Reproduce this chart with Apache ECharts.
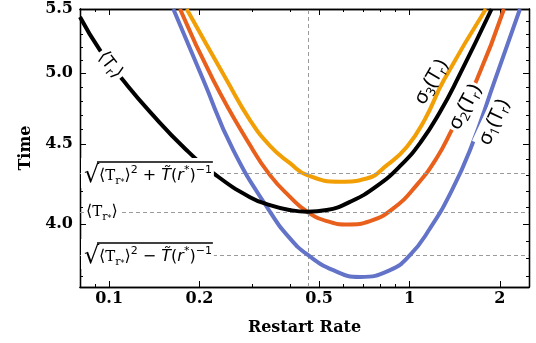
<!DOCTYPE html>
<html>
<head>
<meta charset="utf-8">
<script src="https://cdn.jsdelivr.net/npm/echarts@6/dist/echarts.min.js"></script>
<style>
  html, body { margin: 0; padding: 0; background: #fff; }
  #chart { width: 536px; height: 343px; }
</style>
</head>
<body>
<div id="chart"></div>
<script>
// [restart rate, time]
const meanT = [[0.08, 5.435], [0.0932, 5.175], [0.1112, 4.95], [0.1368, 4.722], [0.1812, 4.461], [0.228, 4.296],
  [0.2944, 4.161], [0.3432, 4.112], [0.4001, 4.082], [0.4567, 4.072], [0.5302, 4.082], [0.6338, 4.132],
  [0.7737, 4.226], [0.9369, 4.363], [1.0921, 4.517], [1.2635, 4.721], [1.45, 4.964], [1.877, 5.5]];
const sigma1 = [[0.1636, 5.5], [0.2059, 4.95], [0.2591, 4.461], [0.3432, 4.072], [0.4001, 3.914], [0.4567, 3.822],
  [0.5575, 3.734], [0.6842, 3.697], [0.8612, 3.734], [1.0037, 3.818], [1.17, 3.972], [1.364, 4.18],
  [1.59, 4.461], [1.925, 4.95], [2.333, 5.5]];
const sigma2 = [[0.1722, 5.5], [0.2222, 4.95], [0.2944, 4.495], [0.3432, 4.299], [0.4001, 4.163], [0.4567, 4.072],
  [0.5302, 4.016], [0.6256, 3.996], [0.7388, 4.016], [0.8833, 4.092], [1.0566, 4.236], [1.232, 4.41],
  [1.382, 4.596], [1.674, 4.95], [2.064, 5.5]];
const sigma3 = [[0.1812, 5.5], [0.2462, 4.95], [0.2944, 4.665], [0.3432, 4.49], [0.4001, 4.376], [0.4567, 4.299],
  [0.587, 4.257], [0.7203, 4.278], [0.8415, 4.363], [0.981, 4.484], [1.126, 4.671], [1.302, 4.95], [1.797, 5.5]];

const rStar = 0.456;
const levels = [4.306, 4.07, 3.819];   // upper, <T_r*>, lower

const xMajor = [0.1, 0.2, 0.5, 1, 2];
const xMinor = [0.09, 0.3, 0.4, 0.6, 0.7, 0.8, 0.9];
const yMajor = [4.0, 4.5, 5.0, 5.5];
const yMinor = [3.7, 3.8, 3.9, 4.1, 4.2, 4.3, 4.4, 4.6, 4.7, 4.8, 4.9, 5.1, 5.2, 5.3, 5.4];

const serif = 'DejaVu Serif';
const chart = echarts.init(document.getElementById('chart'));

function xAx(position, ticks, len, labels) {
  return {
    type: 'log', min: 0.08, max: 2.5, position: position,
    axisLine: { show: true, lineStyle: { color: '#000', width: 1.3 } },
    axisTick: { show: true, inside: true, length: len, customValues: ticks, lineStyle: { color: '#000', width: 1 } },
    axisLabel: labels ? {
      customValues: ticks, margin: 4, color: '#000',
      fontFamily: serif, fontWeight: 'bold', fontSize: 16,
      formatter: (v) => String(Number(Number(v).toPrecision(3)))
    } : { show: false },
    splitLine: { show: false },
    name: labels ? 'Restart Rate' : '',
    nameLocation: 'middle', nameGap: 33,
    nameTextStyle: { fontFamily: serif, fontWeight: 'bold', fontSize: 16, color: '#000' }
  };
}

function yAx(position, ticks, len, labels) {
  return {
    type: 'log', min: 3.642, max: 5.5, position: position,
    axisLine: { show: true, lineStyle: { color: '#000', width: 1.3 } },
    axisTick: { show: true, inside: true, length: len, customValues: ticks, lineStyle: { color: '#000', width: 1 } },
    axisLabel: labels ? {
      customValues: ticks, margin: 7, color: '#000',
      fontFamily: serif, fontWeight: 'bold', fontSize: 16,
      formatter: (v) => Number(v).toFixed(1)
    } : { show: false },
    splitLine: { show: false },
    name: labels ? 'Time' : '',
    nameLocation: 'middle', nameGap: 46,
    nameTextStyle: { fontFamily: serif, fontWeight: 'bold', fontSize: 16, color: '#000' }
  };
}

function curve(data, color, z) {
  return {
    type: 'line', data: data, xAxisIndex: 0, yAxisIndex: 0,
    showSymbol: false, smooth: 0.5, z: z, silent: true,
    lineStyle: { color: color, width: 4 }
  };
}

const dash = { color: '#9a9a9a', width: 1, type: [4, 3] };

chart.setOption({
  animation: false,
  grid: { left: 80, right: 7, top: 9, bottom: 56 },
  xAxis: [xAx('bottom', xMajor, 6, true), xAx('bottom', xMinor, 3, false), xAx('top', xMajor, 6, false), xAx('top', xMinor, 3, false)],
  yAxis: [yAx('left', yMajor, 6, true), yAx('left', yMinor, 3, false), yAx('right', yMajor, 6, false), yAx('right', yMinor, 3, false)],
  series: [
    {
      type: 'line', data: [], xAxisIndex: 0, yAxisIndex: 0, z: 1, silent: true,
      markLine: {
        silent: true, symbol: 'none', label: { show: false }, lineStyle: dash,
        data: levels.map(v => ({ yAxis: v })).concat([{ xAxis: rStar }])
      }
    },
    curve(sigma3, '#f29f05', 3),
    curve(sigma2, '#e8601c', 4),
    curve(sigma1, '#6373c8', 5),
    curve(meanT, '#000', 6)
  ]
});

// annotations, anchored through the axes
const px = (x, y) => chart.convertToPixel({ gridIndex: 0 }, [x, y]);
const left = px(0.08, 4)[0];

const tt = 'DejaVu Serif';
const rich = {
  a: { fontSize: 16, fontFamily: 'DejaVu Sans', fill: '#000', lineHeight: 22 },
  tt: { fontSize: 15, fontFamily: tt, fill: '#000', lineHeight: 22 },
  sub: { fontSize: 11, fontFamily: tt, fill: '#000', lineHeight: 16, verticalAlign: 'bottom' },
  ss: { fontSize: 8, fontFamily: 'DejaVu Sans', fill: '#000', lineHeight: 20, verticalAlign: 'bottom' },
  sup: { fontSize: 11, fontFamily: 'DejaVu Sans', fill: '#000', lineHeight: 12, verticalAlign: 'top' },
  it: { fontSize: 16, fontFamily: 'DejaVu Sans', fontStyle: 'italic', fill: '#000', lineHeight: 22 }
};
const tStar = '{a|⟨}{tt|T}{sub|r}{ss|*}{a|⟩}';

function rootLabel(sign, y) {
  const text = tStar + '{sup|2}{a| ' + sign + ' }{it|T̃}{a|(}{it|r}{sup|*}{a|)}{sup|−1}';
  const w = new echarts.graphic.Text({ style: { text: text, rich: rich } }).getBoundingRect().width;
  return {
    type: 'group', x: left + 4, y: px(1, y)[1], z: 100,
    children: [
      { type: 'rect', z: 100, shape: { x: -3, y: -16, width: 20 + w, height: 30 }, style: { fill: '#fff' } },
      { type: 'text', z: 101, x: 0, y: 2, style: { text: '√', font: '24px DejaVu Sans', fill: '#000', align: 'left', verticalAlign: 'middle', textAlign: 'left', textVerticalAlign: 'middle' } },
      { type: 'line', z: 101, shape: { x1: 13, y1: -12, x2: 16 + w, y2: -12 }, style: { stroke: '#000', lineWidth: 1.4 } },
      { type: 'text', z: 101, x: 15, y: 2, style: { text: text, rich: rich, align: 'left', verticalAlign: 'middle', textAlign: 'left', textVerticalAlign: 'middle' } }
    ]
  };
}

function sigmaLabel(k, x, y, deg, bg) {
  const p = px(x, y);
  return {
    type: 'text', z: 100, x: p[0], y: p[1], rotation: deg * Math.PI / 180,
    style: {
      text: '{s|σ}{n|' + k + '}{s|(T}{n|r}{s|)}',
      rich: {
        s: { fontSize: 20, fontFamily: 'Noto Sans', fill: '#000', lineHeight: 24 },
        n: { fontSize: 13, fontFamily: 'Noto Sans', fill: '#000', lineHeight: 18, verticalAlign: 'bottom' }
      },
      backgroundColor: bg ? '#fff' : 'transparent', padding: [0, 2],
      align: 'center', verticalAlign: 'middle', textAlign: 'center', textVerticalAlign: 'middle'
    }
  };
}

const pMean = px(0.1007, 5.061);
chart.setOption({
  graphic: [
    rootLabel('+', levels[0]),
    {
      type: 'text', z: 100, x: left + 4, y: px(1, levels[1])[1],
      style: { text: tStar, rich: rich, backgroundColor: '#fff', padding: [0, 2], align: 'left', verticalAlign: 'middle', textAlign: 'left', textVerticalAlign: 'middle' }
    },
    rootLabel('−', levels[2]),
    {
      type: 'text', z: 100, x: pMean[0], y: pMean[1], rotation: -52 * Math.PI / 180,
      style: {
        text: '{a|⟨}{s|T}{n|r}{a|⟩}',
        rich: {
          a: { fontSize: 18, fontFamily: 'DejaVu Sans', fill: '#000', lineHeight: 22 },
          s: { fontSize: 18, fontFamily: 'Noto Sans', fill: '#000', lineHeight: 22 },
          n: { fontSize: 12, fontFamily: 'Noto Sans', fill: '#000', lineHeight: 16, verticalAlign: 'bottom' }
        },
        backgroundColor: '#fff', padding: [0, 2],
        align: 'center', verticalAlign: 'middle', textAlign: 'center', textVerticalAlign: 'middle'
      }
    },
    sigmaLabel(3, 1.18, 4.935, 60, false),
    sigmaLabel(2, 1.53, 4.756, 62, true),
    sigmaLabel(1, 1.911, 4.65, 65, true)
  ]
});
</script>
</body>
</html>
